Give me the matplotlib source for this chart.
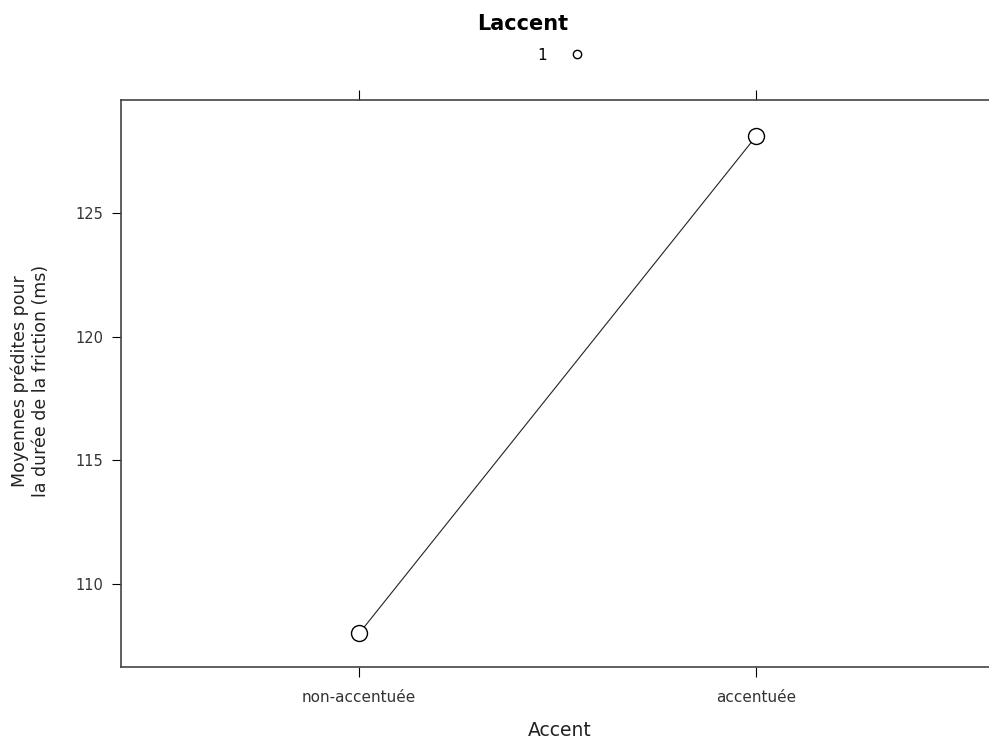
import matplotlib
matplotlib.use("Agg")
import matplotlib.pyplot as plt

categories = ["non-accentuée", "accentuée"]
means = [108.0, 128.1]
y_ticks = [110, 115, 120, 125]
legend_level = "1"

plt.rcParams["font.family"] = ["DejaVu Sans"]

fig = plt.figure(figsize=(9.89, 7.4), dpi=100)
ax = fig.add_axes([0.1223, 0.0986, 0.883, 0.7663])

x = list(range(len(categories)))
ax.plot(x, means, color="#222222", linewidth=0.8, zorder=2)
ax.plot(x, means, linestyle="none", marker="o", markersize=11.5,
        markerfacecolor="white", markeredgecolor="black",
        markeredgewidth=1.0, zorder=3)

ax.set_xlim(-0.6, 1.6)
ax.set_ylim(106.64, 129.57)
ax.set_xticks(x)
ax.set_xticklabels(categories, fontsize=11, color="#333333")
ax.set_yticks(y_ticks)
ax.set_yticklabels([str(v) for v in y_ticks], fontsize=10.5, color="#333333")
ax.tick_params(axis="x", direction="out", length=7.2, top=True, labeltop=False, pad=9)
ax.tick_params(axis="y", direction="out", length=6.5, right=False, pad=6)
for s in ax.spines.values():
    s.set_linewidth(1.2)
    s.set_color("#444444")

fig.text(560 / 989, 1 - 731 / 740, "Accent", ha="center", va="center",
         fontsize=13.5, color="#222222")
fig.text(0.0303, 0.485, "Moyennes prédites pour\nla durée de la friction (ms)",
         rotation=90, ha="center", va="center", multialignment="center",
         fontsize=12.5, color="#222222")

fig.text(523 / 989, 1 - 24 / 740, "Laccent", ha="center", va="center",
         fontsize=15, fontweight="bold")
fig.text(542 / 989, 1 - 56 / 740, legend_level, ha="center", va="center", fontsize=11)
fig.lines.append(plt.Line2D([577 / 989], [1 - 54 / 740], transform=fig.transFigure,
                            marker="o", markersize=6, markerfacecolor="white",
                            markeredgecolor="black", markeredgewidth=1.0,
                            linestyle="none"))

fig.savefig("out.png", dpi=100)
